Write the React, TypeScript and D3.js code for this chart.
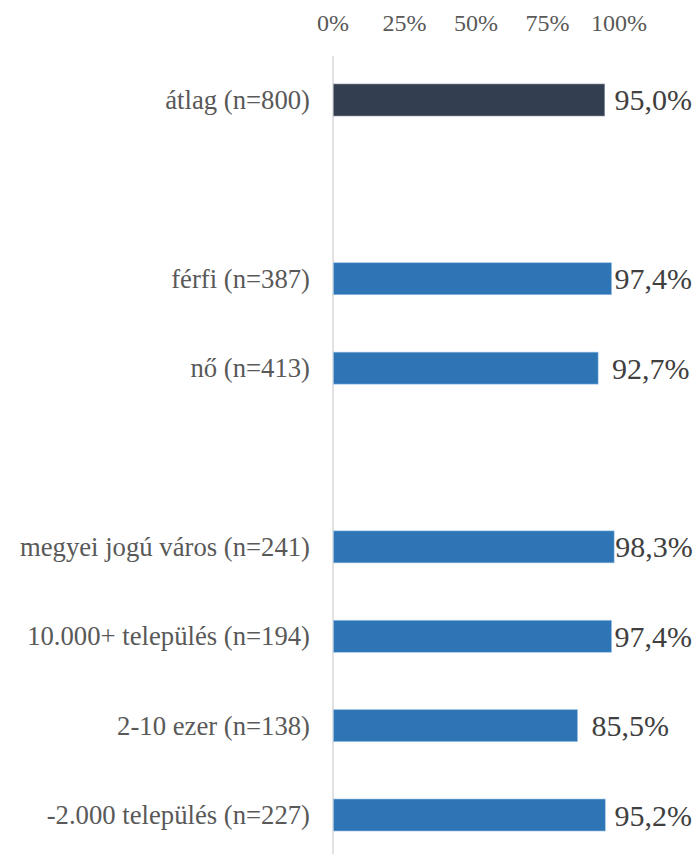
import * as React from 'react'
import * as d3 from 'd3'

// rows of the chart; empty strings are the spacer rows between groups
const categories = [
  'átlag (n=800)',
  '',
  'férfi (n=387)',
  'nő (n=413)',
  '',
  'megyei jogú város (n=241)',
  '10.000+ település (n=194)',
  '2-10 ezer (n=138)',
  '-2.000 település (n=227)',
];
const values: (number | null)[] = [0.95, null, 0.974, 0.927, null, 0.983, 0.974, 0.855, 0.952];
const tickValues = [0, 0.25, 0.5, 0.75, 1];

const W = 696;
const H = 854;

const App: React.FC = () => {
  const ref = React.useRef<SVGSVGElement>(null);

  React.useEffect(() => {
    const svg = d3.select(ref.current);
    svg.selectAll('*').remove();

    const font = '"Liberation Serif", "Times New Roman", serif';

    const x = d3.scaleLinear().domain([0, 1]).range([333, 619]);
    const y = d3.scaleBand<number>()
      .domain(categories.map((_, i) => i))
      .range([55.3, 859.7])
      .paddingInner(0.642)
      .paddingOuter(0.321);

    const pct = (v: number) => d3.format('.1%')(v).replace('.', ',');

    // top axis labels
    svg.append('g')
      .selectAll('text')
      .data(tickValues)
      .enter()
      .append('text')
      .attr('x', d => x(d))
      .attr('y', 31)
      .attr('text-anchor', 'middle')
      .attr('font-family', font)
      .attr('font-size', 24)
      .attr('fill', '#595959')
      .text(d => d3.format('.0%')(d));

    // zero line
    svg.append('line')
      .attr('x1', x(0)).attr('x2', x(0))
      .attr('y1', 56).attr('y2', H)
      .attr('stroke', '#d9d9d9')
      .attr('stroke-width', 1.5);

    const rows = categories
      .map((c, i) => ({ c, i, v: values[i] }))
      .filter(d => d.v !== null) as { c: string; i: number; v: number }[];

    // bars
    svg.append('g')
      .selectAll('rect')
      .data(rows)
      .enter()
      .append('rect')
      .attr('x', x(0) + 0.5)
      .attr('y', d => y(d.i)!)
      .attr('width', d => x(d.v) - x(0) - 0.5)
      .attr('height', y.bandwidth())
      .attr('fill', d => (d.i === 0 ? '#333f50' : '#2e75b6'))
      .attr('stroke', d => (d.i === 0 ? '#8a94a3' : '#9dc3e6'))
      .attr('stroke-width', 0.6);

    // category labels
    svg.append('g')
      .selectAll('text')
      .data(rows)
      .enter()
      .append('text')
      .attr('x', 310)
      .attr('y', d => y(d.i)! + y.bandwidth() / 2 + 9)
      .attr('text-anchor', 'end')
      .attr('font-family', font)
      .attr('font-size', 26.7)
      .attr('fill', '#595959')
      .text(d => d.c);

    // value labels, pushed back inside the frame if they would overflow
    svg.append('g')
      .selectAll('text')
      .data(rows)
      .enter()
      .append('text')
      .attr('x', d => x(d.v) + 14)
      .attr('y', d => y(d.i)! + y.bandwidth() / 2 + 10.5)
      .attr('font-family', font)
      .attr('font-size', 30)
      .attr('fill', '#404040')
      .text(d => pct(d.v))
      .each(function (d) {
        const el = this as SVGTextElement;
        const w = el.getComputedTextLength();
        const start = x(d.v) + 14;
        if (start + w > 692) el.setAttribute('x', String(Math.max(x(d.v) + 1, 692 - w)));
      });
  }, []);

  return (
    <svg
      ref={ref}
      width={W}
      height={H}
      style={{ position: 'absolute', left: 0, top: 0, background: '#fff' }}
    />
  );
};

export default App;
